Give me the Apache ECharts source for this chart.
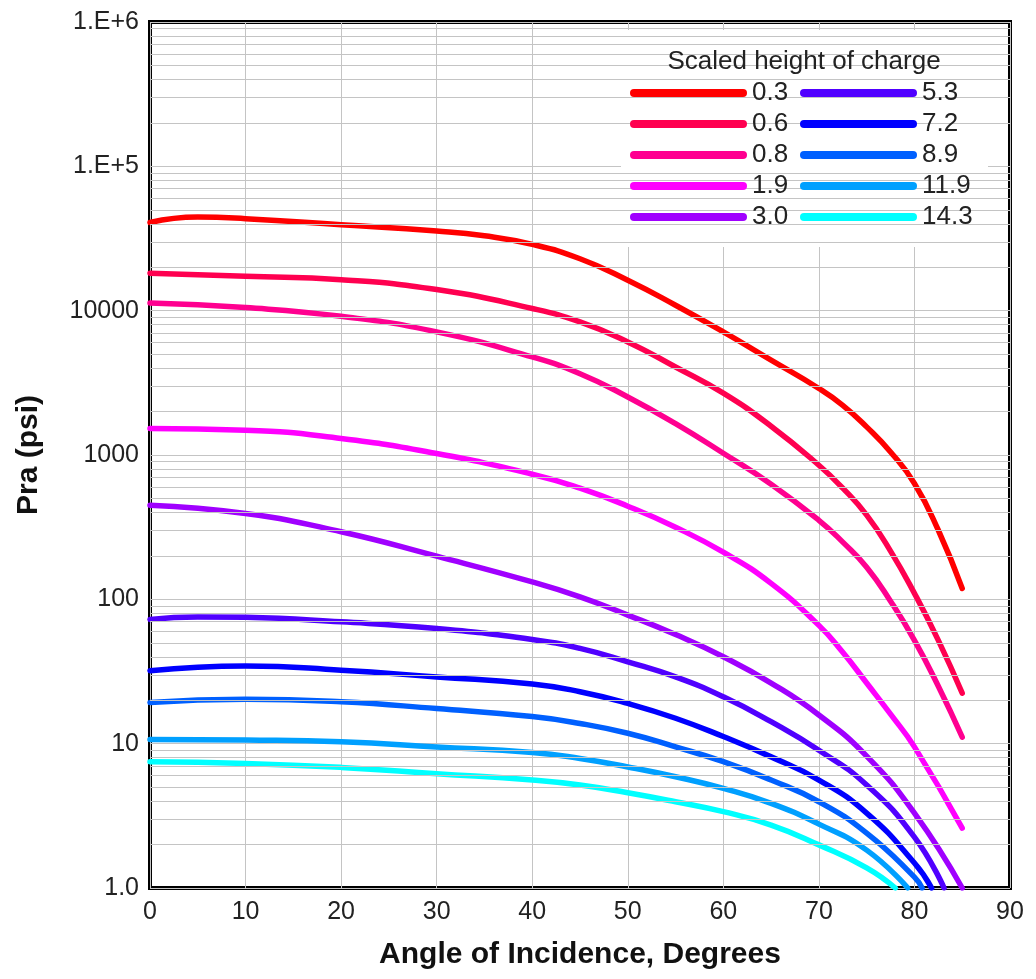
<!DOCTYPE html>
<html>
<head>
<meta charset="utf-8">
<script src="https://cdn.jsdelivr.net/npm/echarts@6/dist/echarts.min.js"></script>
<style>
  html, body { margin: 0; padding: 0; background: #fff; }
  #chart { width: 1036px; height: 979px; }
</style>
</head>
<body>
<div id="chart"></div>
<script>
// reflected pressure vs angle of incidence, one curve per scaled charge height
const heights = ['0.3', '0.6', '0.8', '1.9', '3.0', '5.3', '7.2', '8.9', '11.9', '14.3'];
const colors = ['#ff0000', '#ff0050', '#ff0090', '#ff00ff', '#a000ff',
                '#5000ff', '#0000ff', '#0060ff', '#00a0ff', '#00ffff'];

// [angle (deg), Pra (psi)]
const h03 = [[0, 40800], [5, 44500], [10, 43400], [20, 39400], [30, 35600], [35, 33000], [40, 28800], [45, 22900],
             [50, 16250], [55, 10900], [60, 7120], [65, 4540], [70, 2890], [72.5, 2210], [75, 1567],
             [77.5, 1050], [80, 635], [82.5, 301], [85, 119]];
const h06 = [[0, 18200], [10, 17300], [20, 16400], [30, 14000], [40, 10350], [45, 8350], [50, 6070], [55, 4070],
             [60, 2680], [65, 1583], [70, 849], [72.5, 589], [75, 383], [77.5, 216], [80, 110], [82.5, 52], [85, 22.4]];
const h08 = [[0, 11300], [10, 10500], [20, 9140], [30, 7130], [40, 4780], [45, 3660], [50, 2525], [55, 1650],
             [60, 1029], [65, 628], [70, 353], [72.5, 249], [75, 167], [77.5, 97], [80, 52], [82.5, 25], [85, 11.1]];
const h19 = [[0, 1525], [10, 1485], [20, 1300], [30, 1023], [40, 736], [45, 589], [50, 442], [55, 316],
             [60, 212], [65, 129], [70, 66], [72.5, 43], [75, 26.3], [77.5, 16], [80, 9.5], [85, 2.6]];
const h30 = [[0, 449], [10, 393], [20, 294], [30, 199], [40, 132], [45, 104], [50, 77.8], [55, 57],
             [60, 40], [65, 26.3], [70, 15.8], [75, 8.2], [80, 3.3], [85, 1.0]];
const h53 = [[0, 72.6], [5, 75.5], [10, 75], [20, 69.8], [30, 62.8], [40, 52.7], [45, 45.7], [50, 36.9],
             [55, 29], [60, 21.1], [65, 14.2], [70, 9.0], [75, 5.17], [80, 2.25], [83.1, 1.0]];
const h72 = [[0, 32], [10, 34.5], [20, 32.3], [30, 29], [40, 25.9], [45, 22.9], [50, 19], [55, 15],
             [60, 11.2], [65, 8.1], [70, 5.6], [75, 3.3], [80, 1.49], [81.8, 1.0]];
const h89 = [[0, 19.3], [10, 20.3], [20, 19.5], [30, 17.5], [40, 15.4], [45, 13.8], [50, 11.8], [55, 9.5],
             [60, 7.5], [65, 5.6], [70, 3.96], [75, 2.4], [80, 1.19], [80.8, 1.0]];
const h119 = [[0, 10.7], [10, 10.6], [20, 10.3], [30, 9.5], [40, 8.7], [45, 7.9], [50, 6.9], [55, 5.9],
              [60, 4.9], [65, 3.86], [70, 2.77], [75, 1.83], [79.3, 1.0]];
const h143 = [[0, 7.5], [10, 7.3], [20, 6.85], [30, 6.2], [40, 5.6], [45, 5.17], [50, 4.57], [55, 3.96],
              [60, 3.38], [65, 2.73], [70, 1.99], [75, 1.38], [78, 1.0]];
const curves = [h03, h06, h08, h19, h30, h53, h72, h89, h119, h143];

const yTickLabels = ['1.0', '10', '100', '1000', '10000', '1.E+5', '1.E+6'];

// minor log grid lines 2..9 in each decade
const minorGrid = [];
for (let d = 0; d < 6; d++) {
  for (let k = 2; k <= 9; k++) minorGrid.push(k * Math.pow(10, d));
}

const font = '"Liberation Sans", Arial, sans-serif';
const myChart = echarts.init(document.getElementById('chart'));

const series = [{
  name: 'grid',
  type: 'line',
  data: [],
  silent: true,
  markLine: {
    silent: true,
    symbol: 'none',
    label: { show: false },
    lineStyle: { color: '#c4c4c4', width: 1, type: 'solid' },
    data: minorGrid.map(v => ({ yAxis: v }))
  }
}];
heights.forEach((h, i) => {
  series.push({
    name: h,
    type: 'line',
    data: curves[i],
    smooth: 0.5,
    symbol: 'none',
    clip: true,
    lineStyle: { color: colors[i], width: 5.5, cap: 'round' },
    itemStyle: { color: colors[i] }
  });
});

const legendBase = {
  orient: 'vertical',
  top: 80,
  padding: 0,
  itemWidth: 117,
  itemHeight: 9,
  itemGap: 5,
  z: 10,
  selectedMode: false,
  icon: 'path://M4,0H113A4,4,0,0,1,113,8H4A4,4,0,0,1,4,0Z',
  textStyle: { fontFamily: font, fontSize: 26, color: '#222', lineHeight: 26 }
};

const option = {
  animation: false,
  color: colors,
  grid: {
    left: 150, right: 26, top: 22, bottom: 91,
    show: true, borderColor: '#000', borderWidth: 4, backgroundColor: '#fff'
  },
  legend: [
    Object.assign({}, legendBase, { left: 630, data: heights.slice(0, 5) }),
    Object.assign({}, legendBase, { left: 800, data: heights.slice(5) })
  ],
  graphic: [
    { type: 'rect', z: 3, shape: { x: 621, y: 30, width: 367, height: 217 }, style: { fill: '#fff' } },
    { type: 'text', z: 11, style: { text: 'Scaled height of charge', x: 804, y: 62, align: 'center',
      verticalAlign: 'middle', font: '26px "Liberation Sans", Arial, sans-serif', fill: '#222' } }
  ],
  xAxis: {
    type: 'value',
    min: 0, max: 90, interval: 10,
    name: 'Angle of Incidence, Degrees',
    nameLocation: 'middle',
    nameGap: 52,
    nameTextStyle: { fontFamily: font, fontSize: 30, fontWeight: 'bold', color: '#111' },
    axisLine: { show: false },
    axisTick: { show: false },
    axisLabel: { margin: 12, fontFamily: font, fontSize: 25, color: '#222' },
    splitLine: { show: true, lineStyle: { color: '#c4c4c4', width: 1 } }
  },
  yAxis: {
    type: 'log',
    logBase: 10,
    min: 1, max: 1000000,
    name: 'Pra (psi)',
    nameLocation: 'middle',
    nameGap: 106,
    nameTextStyle: { fontFamily: font, fontSize: 30, fontWeight: 'bold', color: '#111' },
    axisLine: { show: false },
    axisTick: { show: false },
    axisLabel: {
      margin: 11, fontFamily: font, fontSize: 25, color: '#222',
      formatter: v => yTickLabels[Math.round(Math.log10(v))]
    },
    splitLine: { show: true, lineStyle: { color: '#c4c4c4', width: 1 } }
  },
  series: series
};
myChart.setOption(option);
</script>
</body>
</html>
